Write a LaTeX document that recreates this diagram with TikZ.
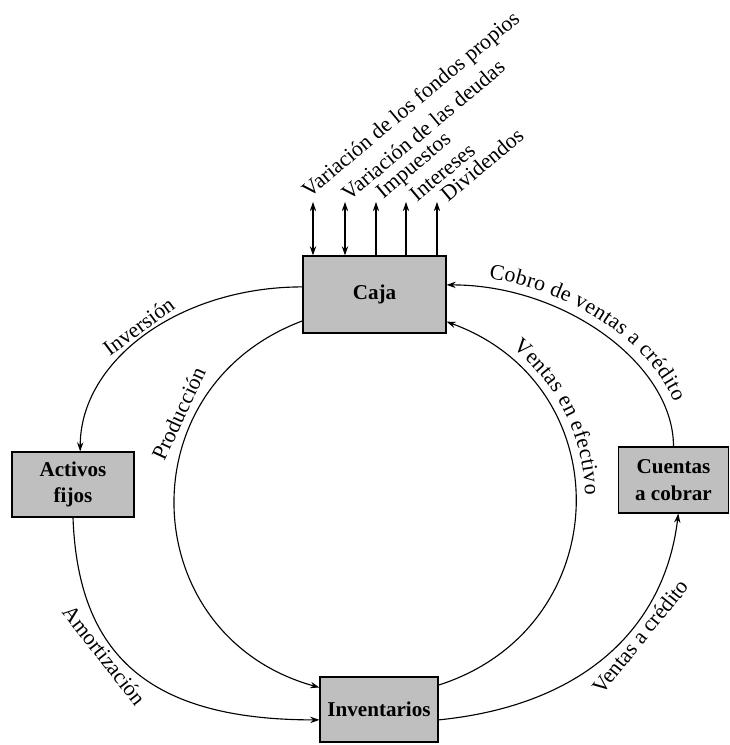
\documentclass[tikz,border=0pt]{standalone}
\usepackage{fontspec}
\setmainfont{Liberation Serif}
\usetikzlibrary{arrows.meta,decorations.text}
\newcommand{\etiq}{\fontsize{15.5}{18}\selectfont}
\tikzset{
  cuenta/.style={draw, line width=0.8pt, fill=black!25, inner sep=0pt, align=center,
    font=\fontsize{15}{19}\selectfont\bfseries},
  flujo/.style={line width=0.8pt},
  etiq/.style={font=\etiq, inner sep=2pt},
  salida/.style={etiq, anchor=south west, rotate=40},
}
\begin{document}
\begin{tikzpicture}[x=0.025cm, y=0.025cm, >={Stealth[length=6.5pt,width=4.5pt]}]
\useasboundingbox (0,0) rectangle (730,745);
% cuentas
\node[cuenta, minimum width=3.575cm, minimum height=1.925cm] (caja) at (374.5,450.5) {Caja};
\node[cuenta, minimum width=3.05cm, minimum height=1.625cm] (activos) at (73,260.5) {Activos\\fijos};
\node[cuenta, minimum width=2.75cm, minimum height=1.65cm] (cuentas) at (673.5,265) {Cuentas\\a cobrar};
\node[cuenta, minimum width=2.95cm, minimum height=1.625cm] (inventarios) at (379,35.5) {Inventarios};
% flujos de la caja hacia fuera
\coordinate (v1) at (313,543);
\coordinate (v2) at (345,543);
\coordinate (v3) at (376,543);
\coordinate (v4) at (406,543);
\coordinate (v5) at (437,543);
\draw[flujo, <->] (caja.north -| v1) -- (v1);
\draw[flujo, <->] (caja.north -| v2) -- (v2);
\draw[flujo, ->] (caja.north -| v3) -- (v3);
\draw[flujo, ->] (caja.north -| v4) -- (v4);
\draw[flujo, ->] (caja.north -| v5) -- (v5);
\node[salida] (n1) at ([shift={(-1,-4)}]v1) {Variación de los fondos propios};
\node[salida] (n2) at ([shift={(4,-4)}]v2) {Variación de las deudas};
\node[salida] (n3) at ([shift={(10,-5)}]v3) {Impuestos};
\node[salida] (n4) at ([shift={(11,-5)}]v4) {Intereses};
\node[salida] (n5) at ([shift={(11,-5)}]v5) {Dividendos};
% circuito
\draw[flujo, ->] ([yshift=0.19cm]caja.west) .. controls +(-123,0) and +(0,91) .. ([xshift=0.18cm]activos.north)
  node[etiq, pos=0.5, sloped, above] {Inversión};
\draw[flujo, ->] ([yshift=-0.66cm]caja.west) .. controls +(-179,-67) and +(-184,51) .. ([yshift=0.55cm]inventarios.west)
  node[etiq, pos=0.3, sloped, above=3pt] {Producción};
\draw[flujo, ->] (activos.south) .. controls +(5,-138) and +(-170,0) .. ([yshift=-0.26cm]inventarios.west)
  node[etiq, pos=0.4, sloped, below] {Amortización};
\draw[flujo, ->] ([yshift=-0.26cm]inventarios.east) .. controls +(150,15) and +(-13,-110) .. ([xshift=0.12cm]cuentas.south)
  node[etiq, pos=0.6, sloped, below] {Ventas a crédito};
\draw[flujo, <-, postaction={decorate, decoration={text along path, raise=7pt, text align=center,
    text={|\etiq|Cobro de ventas a crédito}}}]
  ([yshift=0.24cm]caja.east) .. controls +(118,0) and +(0,82) .. (cuentas.north);
\draw[flujo, <-, postaction={decorate, decoration={text along path, raise=7pt,
    text align={align=left, left indent=1.7cm}, text={|\etiq|Ventas en efectivo}}}]
  ([yshift=-0.68cm]caja.east) .. controls +(176,-64) and +(178.5,57) .. ([yshift=0.61cm]inventarios.east);
\end{tikzpicture}
\end{document}
